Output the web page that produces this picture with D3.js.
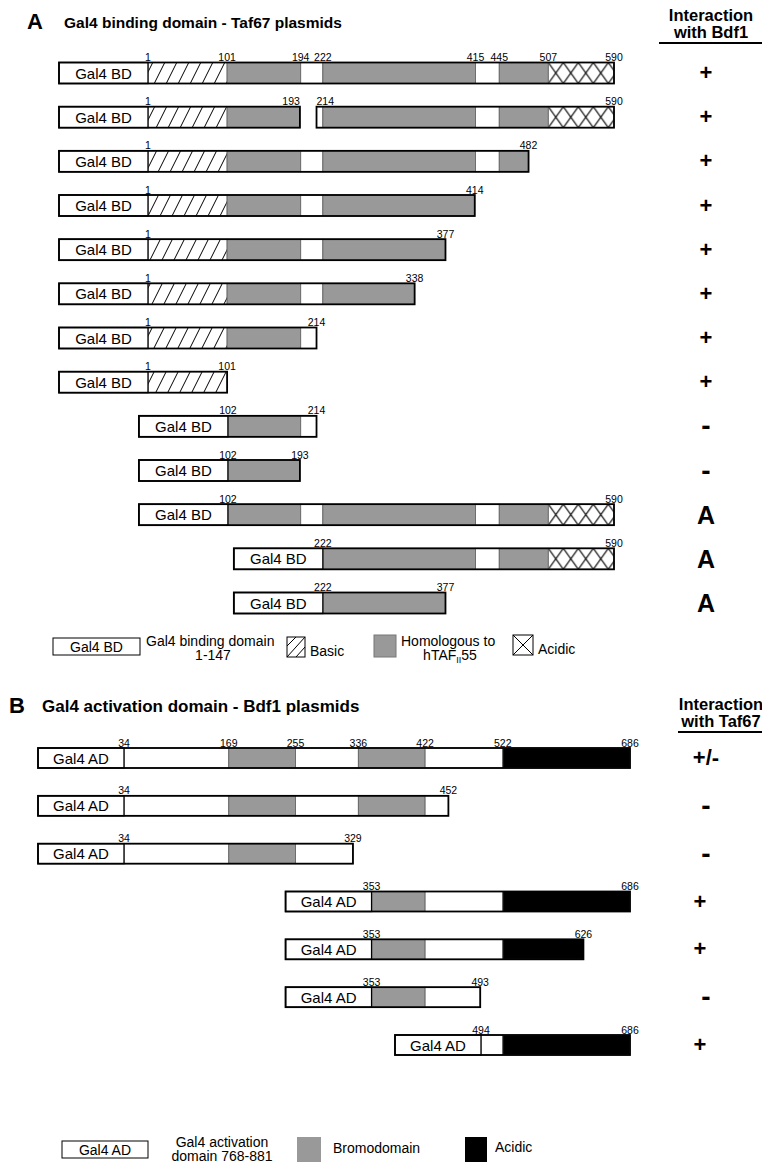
<!DOCTYPE html>
<html>
<head>
<meta charset="utf-8">
<script src="https://cdn.jsdelivr.net/npm/d3@7"></script>
<style>
  body { margin: 0; background: #fff; }
  svg { display: block; font-family: "Liberation Sans", Arial, sans-serif; }
</style>
</head>
<body>
<div id="svg-container"></div>
<script>
////////////////////////////////////////////////////////////////////
////////////////////////////  Data  ////////////////////////////////
// A : Gal4 BD - Taf67 fusions (residue numbers)
const taf67Domains = [
  { from: 1, to: 101, kind: "basic" },
  { from: 101, to: 194, kind: "homol" },
  { from: 194, to: 222, kind: "plain" },
  { from: 222, to: 415, kind: "homol" },
  { from: 415, to: 445, kind: "plain" },
  { from: 445, to: 507, kind: "homol" },
  { from: 507, to: 590, kind: "acidic" },
];
// each plasmid = list of pieces [start, end] (two pieces = internal deletion)
const taf67Pieces = [
  [[1, 590]],
  [[1, 193], [214, 590]],
  [[1, 482]],
  [[1, 414]],
  [[1, 377]],
  [[1, 338]],
  [[1, 214]],
  [[1, 101]],
  [[102, 214]],
  [[102, 193]],
  [[102, 590]],
  [[222, 590]],
  [[222, 377]],
];
const taf67Labels = [
  [1, 101, 194, 222, 415, 445, 507, 590],
  [1, 193, 214, 590],
  [1, 482],
  [1, 414],
  [1, 377],
  [1, 338],
  [1, 214],
  [1, 101],
  [102, 214],
  [102, 193],
  [102, 590],
  [222, 590],
  [222, 377],
];
const bdf1Interaction = ["+", "+", "+", "+", "+", "+", "+", "+", "-", "-", "A", "A", "A"];

// B : Gal4 AD - Bdf1 fusions
const bdf1Domains = [
  { from: 34, to: 169, kind: "plain" },
  { from: 169, to: 255, kind: "bromo" },
  { from: 255, to: 336, kind: "plain" },
  { from: 336, to: 422, kind: "bromo" },
  { from: 422, to: 522, kind: "plain" },
  { from: 522, to: 686, kind: "black" },
];
const bdf1Pieces = [
  [[34, 686]],
  [[34, 452]],
  [[34, 329]],
  [[353, 686]],
  [[353, 626]],
  [[353, 493]],
  [[494, 686]],
];
const bdf1Labels = [
  [34, 169, 255, 336, 422, 522, 686],
  [34, 452],
  [34, 329],
  [353, 686],
  [353, 626],
  [353, 493],
  [494, 686],
];
const taf67Interaction = ["+/-", "-", "-", "+", "+", "-", "+"];

////////////////////////////////////////////////////////////////////
////////////////////////////  Init  ////////////////////////////////
const width = 762;
const height = 1167;
const grey = "#999";

const svg = d3
  .select("#svg-container")
  .append("svg")
  .attr("width", width)
  .attr("height", height);

const defs = svg.append("defs");

// scales
const xA = d3.scaleLinear().domain([1, 590]).range([148, 614]);
const yA = d3.scalePoint().domain(d3.range(taf67Pieces.length)).range([73, 603]);
const xB = d3.scaleLinear().domain([34, 686]).range([124, 630]);
const yB = d3.scalePoint().domain(d3.range(bdf1Pieces.length)).range([758, 1045]);

// diagonal hatch (Basic)
defs
  .append("pattern")
  .attr("id", "hatch")
  .attr("patternUnits", "userSpaceOnUse")
  .attr("x", xA(1))
  .attr("width", 12)
  .attr("height", 24)
  .append("path")
  .attr("d", "M0,24L12,0M-3,6L3,-6M9,30L15,18")
  .attr("stroke", "#000")
  .attr("stroke-width", 1);

////////////////////////////////////////////////////////////////////
////////////////////////////  Panels  //////////////////////////////
function drawPanel(opt) {
  const g = svg.append("g");
  const barH = opt.barH;

  opt.pieces.forEach((pieces, i) => {
    const cy = opt.y(i);
    const top = cy - barH / 2;
    const row = g.append("g");

    // per row cross pattern (acidic in A)
    if (opt.crossPattern) {
      const p = defs
        .append("pattern")
        .attr("id", `cross-${opt.id}-${i}`)
        .attr("patternUnits", "userSpaceOnUse")
        .attr("x", opt.x(507))
        .attr("y", top)
        .attr("width", 15)
        .attr("height", barH);
      p.append("rect").attr("width", 15).attr("height", barH).attr("fill", "#fff");
      p.append("path")
        .attr("d", `M0,0L15,${barH}M0,${barH}L15,0`)
        .attr("stroke", "#000")
        .attr("stroke-width", 1.1);
    }

    pieces.forEach((pc, k) => {
      const segs = opt.domains
        .map((d) => ({ from: Math.max(d.from, pc[0]), to: Math.min(d.to, pc[1]), kind: d.kind }))
        .filter((d) => d.to > d.from);

      row
        .selectAll(null)
        .data(segs)
        .join("rect")
        .attr("x", (d) => opt.x(d.from))
        .attr("y", top)
        .attr("width", (d) => opt.x(d.to) - opt.x(d.from))
        .attr("height", barH)
        .attr("fill", (d) => opt.fill(d.kind, i))
        .attr("stroke", "#666")
        .attr("stroke-width", 0.9);

      let left = opt.x(pc[0]);
      // Gal4 box on first piece
      if (k === 0) {
        left = opt.x(pc[0]) - opt.boxW;
        row
          .append("rect")
          .attr("x", left)
          .attr("y", top)
          .attr("width", opt.boxW)
          .attr("height", barH)
          .attr("fill", "#fff")
          .attr("stroke", "#000")
          .attr("stroke-width", 1.3);
        row
          .append("text")
          .attr("x", left + opt.boxW / 2)
          .attr("y", cy + 5.5)
          .attr("text-anchor", "middle")
          .attr("font-size", 15)
          .text(opt.boxText);
      }

      // outline
      row
        .append("rect")
        .attr("x", left)
        .attr("y", top)
        .attr("width", opt.x(pc[1]) - left)
        .attr("height", barH)
        .attr("fill", "none")
        .attr("stroke", "#000")
        .attr("stroke-width", 1.8);
    });

    // residue labels
    const starts = pieces.map((p) => p[0]);
    const ends = pieces.map((p) => p[1]);
    row
      .selectAll(null)
      .data(opt.labels[i])
      .join("text")
      .attr("x", (d) => opt.x(d))
      .attr("y", top - 1.5)
      .attr("font-size", 10.5)
      .attr("text-anchor", (d) => {
        const s = starts.indexOf(d);
        const e = ends.indexOf(d);
        if (e > -1 && e < pieces.length - 1) return "end";
        if (s > 0) return "start";
        return "middle";
      })
      .text((d) => d);

    // interaction result
    const r = opt.result[i];
    row
      .append("text")
      .attr("x", r === "+" ? opt.plusX : opt.resX)
      .attr("y", cy + (r === "-" ? 9 : r === "A" ? 9 : 7))
      .attr("text-anchor", "middle")
      .attr("font-weight", "bold")
      .attr("font-size", r === "A" ? 25 : r === "-" ? 28 : 22)
      .text(r);
  });
  return g;
}

drawPanel({
  id: "a",
  domains: taf67Domains,
  pieces: taf67Pieces,
  labels: taf67Labels,
  result: bdf1Interaction,
  x: xA,
  y: yA,
  barH: 21,
  boxW: 89,
  boxText: "Gal4 BD",
  resX: 706,
  plusX: 706,
  crossPattern: true,
  fill: (k, i) =>
    k === "basic" ? "url(#hatch)" : k === "homol" ? grey : k === "acidic" ? `url(#cross-a-${i})` : "#fff",
});

drawPanel({
  id: "b",
  domains: bdf1Domains,
  pieces: bdf1Pieces,
  labels: bdf1Labels,
  result: taf67Interaction,
  x: xB,
  y: yB,
  barH: 20,
  boxW: 86,
  boxText: "Gal4 AD",
  resX: 706,
  plusX: 700,
  crossPattern: false,
  fill: (k) => (k === "bromo" ? grey : k === "black" ? "#000" : "#fff"),
});

////////////////////////////////////////////////////////////////////
////////////////////////////  Titles  //////////////////////////////
function header(letter, lx, ly, title, tx, size, line2, cx, hy, lineX) {
  svg.append("text").attr("x", lx).attr("y", ly).attr("font-weight", "bold").attr("font-size", 22).text(letter);
  svg.append("text").attr("x", tx).attr("y", ly - 1).attr("font-weight", "bold").attr("font-size", size).text(title);
  svg.append("text").attr("x", cx).attr("y", hy).attr("text-anchor", "middle").attr("font-weight", "bold").attr("font-size", 16.5).text("Interaction");
  svg.append("text").attr("x", cx).attr("y", hy + 17).attr("text-anchor", "middle").attr("font-weight", "bold").attr("font-size", 16.5).text(line2);
  svg.append("line").attr("x1", lineX).attr("x2", width).attr("y1", hy + 22).attr("y2", hy + 22).attr("stroke", "#000").attr("stroke-width", 1.8);
}
header("A", 27, 29, "Gal4 binding domain - Taf67 plasmids", 64, 15.5, "with Bdf1", 711, 21, 659);
header("B", 9, 713, "Gal4 activation domain - Bdf1 plasmids", 42, 17, "with Taf67", 721, 710, 678);

////////////////////////////////////////////////////////////////////
////////////////////////////  Legends  /////////////////////////////
const legA = svg.append("g").attr("font-size", 14);
legA.append("rect").attr("x", 53).attr("y", 638).attr("width", 87).attr("height", 17).attr("fill", "#fff").attr("stroke", "#000");
legA.append("text").attr("x", 96.5).attr("y", 651.5).attr("text-anchor", "middle").text("Gal4 BD");
legA.append("text").attr("x", 146).attr("y", 646).text("Gal4 binding domain");
legA.append("text").attr("x", 213).attr("y", 660).attr("text-anchor", "middle").text("1-147");
legA.append("rect").attr("x", 287).attr("y", 637).attr("width", 18).attr("height", 20).attr("fill", "#fff").attr("stroke", "#000");
legA.append("path").attr("d", "M287,657L305,637M287,646L296,637M296,657L305,647").attr("stroke", "#000");
legA.append("text").attr("x", 310).attr("y", 656).text("Basic");
legA.append("rect").attr("x", 374).attr("y", 635).attr("width", 22).attr("height", 22).attr("fill", grey).attr("stroke", "#777");
legA.append("text").attr("x", 401).attr("y", 646).text("Homologous to");
const sub = legA.append("text").attr("x", 450).attr("y", 660).attr("text-anchor", "middle");
sub.append("tspan").text("hTAF");
sub.append("tspan").attr("font-size", 9).attr("dy", 3).text("II");
sub.append("tspan").attr("dy", -3).text("55");
legA.append("rect").attr("x", 513).attr("y", 635).attr("width", 20).attr("height", 20).attr("fill", "#fff").attr("stroke", "#000");
legA.append("path").attr("d", "M513,635L533,655M513,655L533,635").attr("stroke", "#000");
legA.append("text").attr("x", 538).attr("y", 654).text("Acidic");

const legB = svg.append("g").attr("font-size", 14);
legB.append("rect").attr("x", 62).attr("y", 1141).attr("width", 86).attr("height", 17).attr("fill", "#fff").attr("stroke", "#000");
legB.append("text").attr("x", 105).attr("y", 1154.5).attr("text-anchor", "middle").text("Gal4 AD");
legB.append("text").attr("x", 222).attr("y", 1147).attr("text-anchor", "middle").text("Gal4 activation");
legB.append("text").attr("x", 222).attr("y", 1161).attr("text-anchor", "middle").text("domain  768-881");
legB.append("rect").attr("x", 297).attr("y", 1137).attr("width", 24).attr("height", 25).attr("fill", grey);
legB.append("text").attr("x", 333).attr("y", 1153).text("Bromodomain");
legB.append("rect").attr("x", 465).attr("y", 1137).attr("width", 22).attr("height", 25).attr("fill", "#000");
legB.append("text").attr("x", 495).attr("y", 1152).text("Acidic");
</script>
</body>
</html>
